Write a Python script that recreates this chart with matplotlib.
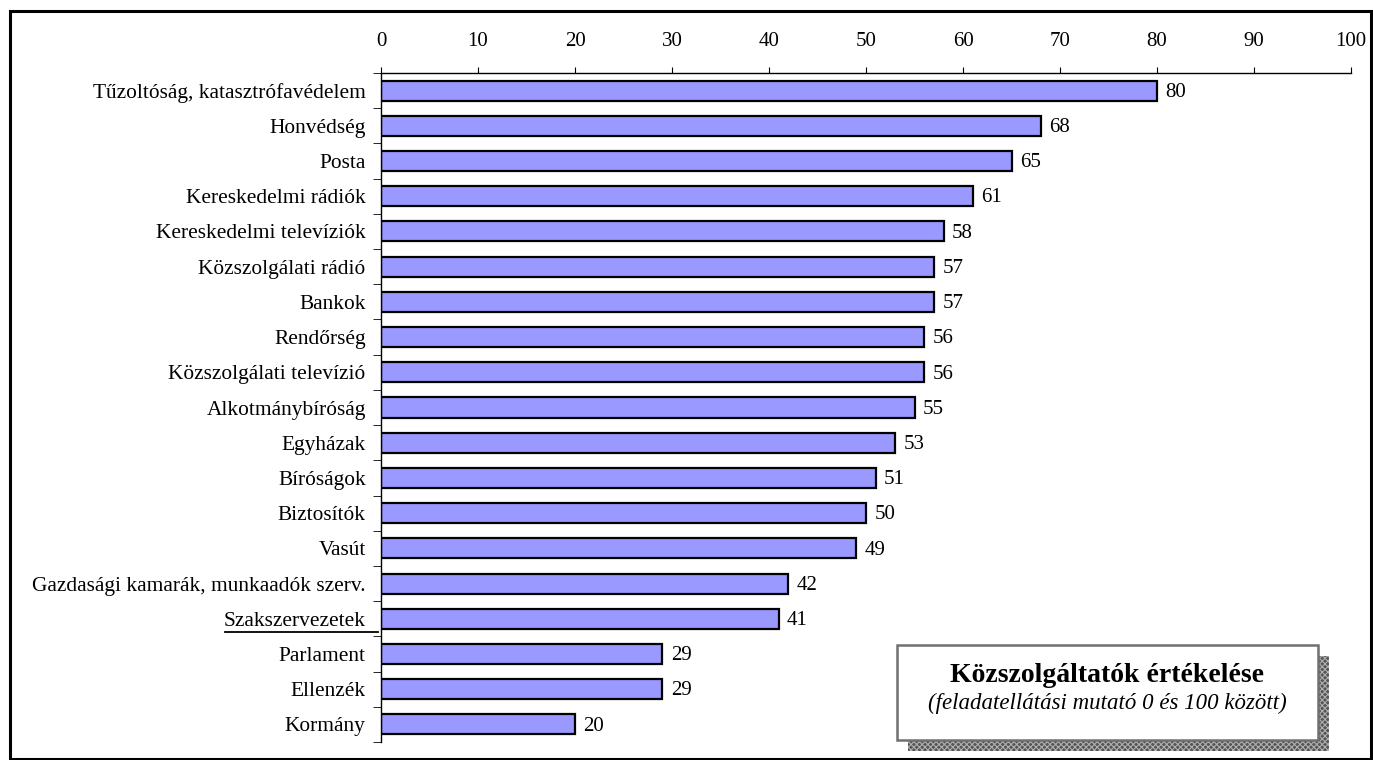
import matplotlib
matplotlib.use("Agg")
import matplotlib.pyplot as plt
from matplotlib.patches import Rectangle
import matplotlib.transforms as mtransforms

plt.rcParams["font.family"] = ["Liberation Serif", "DejaVu Serif"]
plt.rcParams["hatch.linewidth"] = 0.8

categories = [
    "Tűzoltóság, katasztrófavédelem", "Honvédség", "Posta",
    "Kereskedelmi rádiók", "Kereskedelmi televíziók", "Közszolgálati rádió",
    "Bankok", "Rendőrség", "Közszolgálati televízió", "Alkotmánybíróság",
    "Egyházak", "Bíróságok", "Biztosítók", "Vasút",
    "Gazdasági kamarák, munkaadók szerv.", "Szakszervezetek", "Parlament",
    "Ellenzék", "Kormány",
]
values = [80, 68, 65, 61, 58, 57, 57, 56, 56, 55, 53, 51, 50, 49, 42, 41, 29, 29, 20]
x_ticks = list(range(0, 101, 10))
title = "Közszolgáltatók értékelése"
subtitle = "(feladatellátási mutató 0 és 100 között)"

W, H = 1373, 760
fig = plt.figure(figsize=(W / 100, H / 100), dpi=100)
ax = fig.add_axes([381 / W, 1 - 742 / H, (1351 - 381) / W, (742 - 73) / H])

pos = list(range(len(categories)))
ax.barh(pos, values, height=0.57, color="#9999FF", edgecolor="black", linewidth=1.6, zorder=2)
for p, v in zip(pos, values):
    ax.annotate(f"{v}", (v, p + 0.05), xytext=(6, 0), textcoords="offset points",
                va="center", ha="left", fontsize=15)

ax.set_xlim(0, 100)
ax.set_ylim(len(categories) - 0.5, -0.5)
ax.xaxis.tick_top()
ax.set_xticks(x_ticks)
ax.tick_params(axis="x", which="major", direction="out", length=4, labelsize=15, pad=12)
ax.set_yticks(pos)
ax.set_yticklabels(categories)
ax.tick_params(axis="y", which="major", length=0, labelsize=15.4, pad=11)
ax.set_yticks([p - 0.5 for p in pos] + [len(pos) - 0.5], minor=True)
ax.tick_params(axis="y", which="minor", direction="out", length=6)
for s in ["right", "bottom"]:
    ax.spines[s].set_visible(False)
ax.spines["top"].set_linewidth(1)
ax.spines["left"].set_linewidth(1)

# underline below "Szakszervezetek"
trans = mtransforms.blended_transform_factory(fig.transFigure, ax.transData)
idx = categories.index("Szakszervezetek")
ax.plot([225 / W, 378 / W], [idx + 0.38, idx + 0.38], color="black", lw=1.3,
        transform=trans, clip_on=False)

# figure border
fig.patches.append(Rectangle((10 / W, 1 / H), 1361 / W, 748 / H, transform=fig.transFigure,
                             fill=False, edgecolor="black", linewidth=2.2))

# text box with hatched shadow
bx0, by0, bw, bh = 897, 645, 421, 95
fig.patches.append(Rectangle(((bx0 + 11) / W, 1 - (by0 + bh + 11) / H), bw / W, bh / H,
                             transform=fig.transFigure, facecolor="#555555",
                             edgecolor="#b0b0b0", hatch="xxxxxx", linewidth=0, zorder=3))
fig.patches.append(Rectangle((bx0 / W, 1 - (by0 + bh) / H), bw / W, bh / H,
                             transform=fig.transFigure, facecolor="white",
                             edgecolor="#707070", linewidth=1.8, zorder=4))
fig.text((bx0 + bw / 2) / W, 1 - 675 / H, title, ha="center", va="center",
         fontsize=20, fontweight="bold", zorder=5)
fig.text((bx0 + bw / 2) / W, 1 - 703 / H, subtitle, ha="center", va="center",
         fontsize=16.5, fontstyle="italic", zorder=5)

fig.savefig("out.png", dpi=100)
